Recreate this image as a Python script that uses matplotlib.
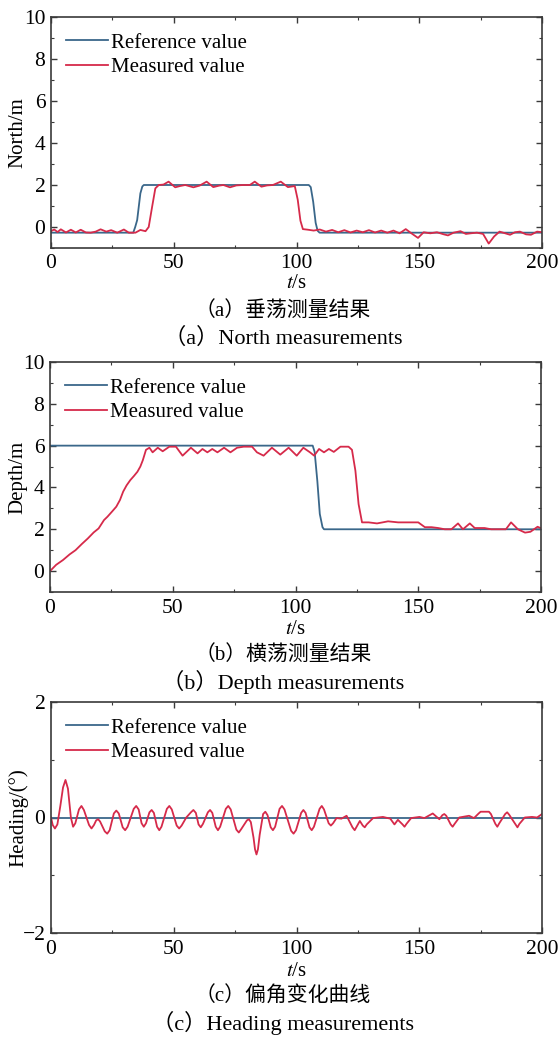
import matplotlib

matplotlib.use("Agg")
import matplotlib.pyplot as plt
import numpy as np
from matplotlib.ticker import MultipleLocator

plt.rcParams["font.family"] = ["Liberation Serif", "Noto Sans CJK SC"]
plt.rcParams["mathtext.fontset"] = "stix"

COLOR_REF = "#3a678a"
COLOR_MED = "#d62a4a"
COLOR_EJE = "#3a3a3a"

# (a) North
ref_a = [(0, -0.27), (33.5, -0.27), (34.3, 0.0), (35.1, 0.33), (36.4, 1.6),
         (37.2, 1.93), (37.8, 2.0), (105, 2.0), (105.8, 1.9), (106.8, 1.2),
         (107.8, 0.2), (108.6, -0.18), (109.4, -0.27), (200, -0.27)]
med_a = [(0, -0.2), (1.3, -0.12), (2.7, -0.24), (4.0, -0.11), (6.1, -0.26),
         (8.1, -0.13), (10.1, -0.26), (12.1, -0.13), (14.2, -0.26), (16.2, -0.27),
         (18.2, -0.22), (20.2, -0.11), (22.5, -0.22), (24.5, -0.15), (27.0, -0.27),
         (29.7, -0.12), (31.7, -0.27), (34.4, -0.27), (36.4, -0.14), (38.5, -0.2),
         (39.8, 0.0), (41.2, 0.97), (42.5, 1.84), (43.9, 2.0), (45.8, 2.02),
         (47.9, 2.16), (50.6, 1.89), (52.5, 1.95), (54.7, 2.0), (58.0, 1.89),
         (60.5, 1.97), (63.4, 2.16), (66.1, 1.9), (68.5, 1.97), (70.2, 2.0),
         (72.9, 1.89), (75.5, 1.98), (78.3, 2.0), (81.0, 2.0), (83.0, 2.16),
         (85.7, 1.92), (88.0, 1.98), (90.4, 2.0), (93.6, 2.16), (96.5, 1.9),
         (99.3, 1.95), (100.5, 1.3), (101.6, 0.3), (102.6, -0.1), (104.7, -0.13),
         (107.0, -0.17), (109.5, -0.12), (112.0, -0.22), (114.5, -0.14),
         (117.0, -0.25), (119.5, -0.15), (122.0, -0.26), (124.5, -0.17),
         (127.0, -0.25), (129.5, -0.15), (132.0, -0.26), (134.5, -0.17),
         (137.0, -0.27), (139.5, -0.17), (142.0, -0.3), (144.5, -0.1),
         (146.8, -0.3), (149.5, -0.52), (151.8, -0.25), (154.5, -0.3),
         (157.2, -0.25), (160.0, -0.35), (161.7, -0.4), (164.0, -0.27),
         (166.8, -0.2), (169.0, -0.33), (171.0, -0.3), (173.5, -0.27),
         (176.0, -0.33), (178.3, -0.79), (180.5, -0.45), (182.7, -0.22),
         (185.0, -0.3), (187.0, -0.37), (189.0, -0.25), (191.0, -0.22),
         (193.5, -0.35), (195.5, -0.37), (198.0, -0.22), (200, -0.25)]

# (b) Depth
ref_b = [(0, 6.0), (107.0, 6.0), (107.8, 5.7), (108.9, 4.3), (109.9, 2.73),
         (111.0, 2.1), (111.6, 2.0), (200, 2.0)]
med_b = [(0, 0.0), (2.5, 0.3), (5.3, 0.53), (8.0, 0.8), (10.4, 1.0), (13.0, 1.3),
         (15.4, 1.56), (17.8, 1.85), (19.8, 2.04), (22.0, 2.44), (23.4, 2.6),
         (25.3, 2.85), (27.0, 3.08), (28.5, 3.4), (29.8, 3.8), (31.2, 4.1),
         (32.7, 4.35), (34.2, 4.55), (35.6, 4.75), (36.8, 5.0), (37.8, 5.3),
         (39.1, 5.8), (40.5, 5.9), (41.8, 5.68), (43.9, 5.9), (45.9, 5.73),
         (48.6, 5.95), (51.3, 5.95), (54.0, 5.52), (57.4, 5.9), (60.1, 5.63),
         (62.1, 5.84), (64.1, 5.68), (66.1, 5.84), (68.2, 5.68), (70.9, 5.9),
         (73.5, 5.68), (76.2, 5.9), (78.9, 5.95), (82.3, 5.95), (84.3, 5.68),
         (87.0, 5.52), (90.4, 5.9), (93.8, 5.57), (97.2, 5.9), (100.5, 5.52),
         (103.2, 5.9), (105.9, 5.68), (107.6, 5.52), (109.6, 5.84), (111.6, 5.68),
         (113.6, 5.84), (115.6, 5.7), (118.3, 5.95), (121.6, 5.95), (123.0, 5.8),
         (124.4, 4.8), (125.7, 3.2), (127.1, 2.33), (129.8, 2.33), (133.2, 2.28),
         (135.5, 2.33), (137.7, 2.38), (141.8, 2.33), (145.9, 2.33), (150.0, 2.33),
         (152.7, 2.1), (155.4, 2.1), (158.1, 2.06), (160.8, 2.0), (163.5, 2.0),
         (166.2, 2.28), (168.2, 2.0), (171.0, 2.28), (173.0, 2.06), (177.0, 2.06),
         (179.7, 2.0), (182.4, 2.0), (185.7, 2.0), (187.8, 2.33), (190.6, 2.0),
         (193.5, 1.84), (195.7, 1.88), (198.6, 2.12), (200, 2.05)]

# (c) Heading
ref_c = [(0, 0.0), (200, 0.0)]
med_c = [(0, 0.0), (0.7, -0.13), (1.6, -0.19), (2.6, -0.12), (3.8, 0.2),
         (4.9, 0.52), (5.9, 0.65), (6.9, 0.5), (8.1, 0.0), (9.0, -0.16),
         (9.9, -0.1), (11.4, 0.14), (12.4, 0.2), (13.4, 0.13), (15.5, -0.13),
         (16.5, -0.19), (17.5, -0.13), (18.4, -0.05), (19.2, -0.03), (20.0, -0.07),
         (21.9, -0.24), (22.9, -0.28), (23.9, -0.22), (25.6, 0.07), (26.6, 0.12),
         (27.6, 0.07), (29.2, -0.17), (30.2, -0.22), (31.2, -0.16), (33.7, 0.15),
         (34.7, 0.2), (35.7, 0.14), (36.9, -0.1), (37.8, -0.16), (38.7, -0.1),
         (40.1, 0.09), (41.0, 0.13), (41.9, 0.08), (43.2, -0.16), (44.1, -0.22),
         (45.0, -0.16), (47.2, 0.15), (48.2, 0.2), (49.2, 0.14), (51.2, -0.14),
         (52.2, -0.19), (53.2, -0.14), (55.1, 0.0), (57.0, 0.09), (58.0, 0.13),
         (59.0, 0.08), (60.1, -0.12), (61.0, -0.17), (61.9, -0.11), (63.9, 0.09),
         (64.8, 0.13), (65.7, 0.08), (67.1, -0.16), (68.0, -0.22), (68.9, -0.16),
         (71.2, 0.15), (72.2, 0.2), (73.2, 0.14), (75.5, -0.21), (76.5, -0.26),
         (77.5, -0.2), (79.8, -0.05), (80.6, -0.03), (81.4, -0.08), (82.5, -0.35),
         (83.1, -0.55), (83.7, -0.64), (84.3, -0.55), (85.0, -0.3), (86.4, 0.06),
         (87.3, 0.1), (88.2, 0.04), (89.5, -0.17), (90.4, -0.22), (91.3, -0.16),
         (93.1, 0.15), (94.1, 0.2), (95.1, 0.14), (97.8, -0.23), (98.8, -0.28),
         (99.8, -0.22), (101.9, 0.08), (102.8, 0.13), (103.7, 0.08), (105.3, -0.17),
         (106.2, -0.22), (107.1, -0.16), (109.4, 0.15), (110.3, 0.2), (111.2, 0.14),
         (113.1, -0.1), (114.0, -0.14), (114.9, -0.1), (116.3, -0.01),
         (118.3, -0.02), (120.4, 0.03), (122.8, -0.17), (123.7, -0.22),
         (124.6, -0.15), (125.8, -0.06), (127.0, -0.14), (127.8, -0.17),
         (128.6, -0.12), (131.2, -0.01), (135.2, 0.01), (138.2, -0.02),
         (139.9, -0.12), (141.3, -0.04), (143.2, -0.12), (144.0, -0.16),
         (144.8, -0.11), (146.7, -0.01), (150.1, 0.01), (152.1, -0.01),
         (154.7, 0.05), (155.5, 0.07), (156.3, 0.04), (158.2, -0.03), (159.4, 0.04),
         (160.2, 0.06), (161.0, 0.03), (162.8, -0.12), (163.6, -0.16),
         (164.4, -0.11), (166.3, 0.0), (170.3, 0.03), (172.3, -0.01), (174.2, 0.07),
         (175.0, 0.1), (178.4, 0.1), (179.2, 0.06), (181.0, -0.11), (181.8, -0.16),
         (182.6, -0.1), (185.0, 0.06), (185.8, 0.09), (186.6, 0.05), (189.2, -0.12),
         (190.0, -0.17), (190.8, -0.11), (193.0, 0.0), (195.9, 0.01), (198.0, 0.0),
         (200, 0.06)]

PANELES = [
    dict(ref=ref_a, med=med_a, ylim=(-1, 10), ylabel="North/m",
         cap_cn="（a）垂荡测量结果", cap_en="（a）North measurements",
         caja=(51, 17, 542, 248), xlab=35, pad_x=4),
    dict(ref=ref_b, med=med_b, ylim=(-1, 10), ylabel="Depth/m",
         cap_cn="（b）横荡测量结果", cap_en="（b）Depth measurements",
         caja=(50, 362, 541, 592), xlab=37, pad_x=5),
    dict(ref=ref_c, med=med_c, ylim=(-2, 2), ylabel="Heading/(°)",
         cap_cn="（c）偏角变化曲线", cap_en="（c）Heading measurements",
         caja=(51, 702, 542, 933), xlab=38, pad_x=5),
]

W, H = 559, 1037
figura = plt.figure(figsize=(W / 100, H / 100), dpi=100)
figura.patch.set_facecolor("white")

for p in PANELES:
    x0, y0, x1, y1 = p["caja"]
    eje = figura.add_axes([x0 / W, 1 - y1 / H, (x1 - x0) / W, (y1 - y0) / H])
    t_r, v_r = np.array(p["ref"]).T
    t_m, v_m = np.array(p["med"]).T
    eje.plot(t_r, v_r, color=COLOR_REF, lw=1.3, label="Reference value")
    eje.plot(t_m, v_m, color=COLOR_MED, lw=1.3, label="Measured value",
             solid_joinstyle="round")
    eje.set_xlim(0, 200)
    eje.set_ylim(*p["ylim"])
    eje.xaxis.set_major_locator(MultipleLocator(50))
    eje.xaxis.set_minor_locator(MultipleLocator(25))
    eje.yaxis.set_major_locator(MultipleLocator(2))
    eje.yaxis.set_minor_locator(MultipleLocator(1))
    eje.tick_params(which="both", direction="in", top=True, right=True,
                    color=COLOR_EJE, labelsize=15.5)
    eje.tick_params(axis="x", pad=p["pad_x"])
    eje.tick_params(axis="y", pad=4)
    eje.tick_params(which="major", length=4, width=1.0)
    eje.tick_params(which="minor", length=2.5, width=0.8)
    for s in eje.spines.values():
        s.set_color(COLOR_EJE)
        s.set_linewidth(1.2)
    eje.legend(loc="upper left", frameon=False, fontsize=15, handlelength=2.0,
               handletextpad=0.15, labelspacing=0.25, borderpad=0,
               borderaxespad=0, bbox_to_anchor=(15 / (x1 - x0), 1 - 16 / (y1 - y0)))

    xc = 0.5 * (x0 + x1) / W
    figura.text(18 / W, 1 - 0.5 * (y0 + y1) / H, p["ylabel"], rotation=90,
                ha="center", va="center", fontsize=15)
    figura.text(xc, 1 - (y1 + p["xlab"]) / H, "$t$/s", ha="center",
                va="center", fontsize=15)
    figura.text(283 / W, 1 - (y1 + 64) / H, p["cap_cn"],
                ha="center", va="center", fontsize=15)
    figura.text(283 / W, 1 - (y1 + 90) / H, p["cap_en"],
                ha="center", va="center", fontsize=16)

figura.savefig("out.png", dpi=100, facecolor="white")
